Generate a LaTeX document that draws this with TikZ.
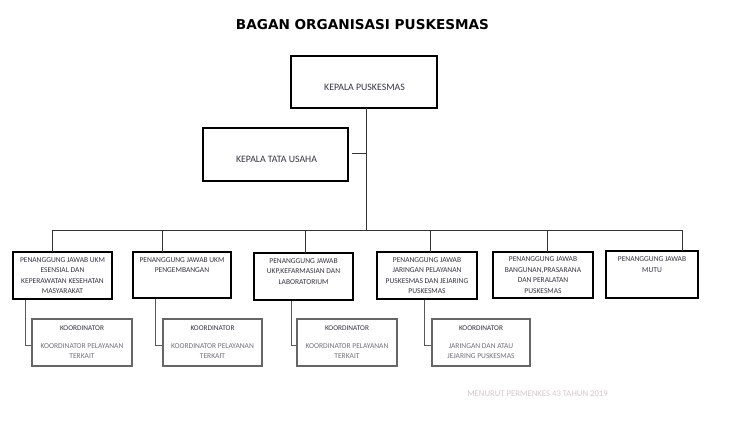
\documentclass[tikz,border=0pt]{standalone}
\usepackage{fontspec}
\setmainfont{Carlito}
\newfontfamily\titlefont{DejaVu Sans}
\definecolor{txt}{HTML}{34343F}
\definecolor{ltxt}{HTML}{707078}
\definecolor{foot}{HTML}{D3C6CD}
\definecolor{cbord}{HTML}{666666}
\begin{document}
\begin{tikzpicture}[x=1pt,y=-1pt,
  mainbox/.style={draw=black,line width=1.6pt,inner sep=0pt},
  coordbox/.style={draw=cbord,line width=1.4pt,inner sep=0pt},
  boxtext/.style={text=txt,font=\fontsize{7.5}{10.5}\selectfont,align=center,inner sep=0pt,anchor=north},
  bigtext/.style={text=txt,font=\fontsize{9.8}{11}\selectfont,inner sep=0pt},
  ctext/.style={text=ltxt,font=\fontsize{7.5}{10}\selectfont,align=center,inner sep=0pt,anchor=north},
  conn/.style={draw=black!80,line width=0.8pt},
  cconn/.style={draw=black!65,line width=0.8pt}]
\useasboundingbox (0,0) rectangle (744,438);

\node[font=\titlefont\bfseries\fontsize{13.6}{15}\selectfont,text=black,inner sep=0pt] (title) at (362.5,25) {BAGAN ORGANISASI PUSKESMAS};

% top boxes
\node[mainbox,minimum width=146pt,minimum height=52pt] (kp) at (364,82) {};
\node[bigtext] (kpt) at (364.5,87) {KEPALA PUSKESMAS};
\node[mainbox,minimum width=145pt,minimum height=53pt] (ktu) at (275.5,154.5) {};
\node[bigtext] (ktut) at (276.5,159) {KEPALA TATA USAHA};

\coordinate (trunktop) at (366,108);
\coordinate (trunkbot) at (366,230);
\coordinate (ktuj) at (366,153);
\draw[conn] (trunktop) -- (trunkbot);
\draw[conn] (ktu.east |- ktuj) ++(3,0) -- (ktuj);

% row 2 boxes
\node[mainbox,minimum width=99pt,minimum height=47pt] (b1) at (62.5,275.5) {};
\node[mainbox,minimum width=98pt,minimum height=46pt] (b2) at (182,275) {};
\node[mainbox,minimum width=99pt,minimum height=47pt] (b3) at (303.5,276.5) {};
\node[mainbox,minimum width=100pt,minimum height=47pt] (b4) at (427,275.5) {};
\node[mainbox,minimum width=100pt,minimum height=46pt] (b5) at (543,275) {};
\node[mainbox,minimum width=92pt,minimum height=47pt] (b6) at (652,274.5) {};

\node[boxtext] (b1t) at (62.5,257.3) {PENANGGUNG JAWAB UKM\\ESENSIAL DAN\\KEPERAWATAN KESEHATAN\\MASYARAKAT};
\node[boxtext] (b2t) at (182,257.3) {PENANGGUNG JAWAB UKM\\PENGEMBANGAN};
\node[boxtext] (b3t) at (303.5,258.3) {PENANGGUNG JAWAB\\UKP,KEFARMASIAN DAN\\LABORATORIUM};
\node[boxtext] (b4t) at (427,257.3) {PENANGGUNG JAWAB\\JARINGAN PELAYANAN\\PUSKESMAS DAN JEJARING\\PUSKESMAS};
\node[boxtext] (b5t) at (543,256.8) {PENANGGUNG JAWAB\\BANGUNAN,PRASARANA\\DAN PERALATAN\\PUSKESMAS};
\node[boxtext] (b6t) at (652,256.8) {PENANGGUNG JAWAB\\MUTU};

% bus
\coordinate (bl) at (52,230);
\coordinate (br) at (682,230);
\draw[conn] (bl) -- (br);
\draw[conn] (52,230) -- (52,252);
\draw[conn] (162,230) -- (162,252);
\draw[conn] (305,230) -- (305,253);
\draw[conn] (430,230) -- (430,252);
\draw[conn] (547,230) -- (547,252);
\draw[conn] (682,230) -- (682,251);

% coordinator boxes
\node[coordbox,minimum width=100pt,minimum height=47pt] (c1) at (82,342.5) {};
\node[coordbox,minimum width=99pt,minimum height=47pt] (c2) at (212.5,342.5) {};
\node[coordbox,minimum width=100pt,minimum height=47pt] (c3) at (347,342.5) {};
\node[coordbox,minimum width=98pt,minimum height=47pt] (c4) at (481,342.5) {};

\foreach \n/\x in {c1/82,c2/212.5,c3/347,c4/481}{
  \node[text=txt,font=\fontsize{7.3}{10}\selectfont,inner sep=0pt] (\n k) at (\x,328.5) {KOORDINATOR};
}
\node[ctext] (c1t) at (82,343.3) {KOORDINATOR PELAYANAN\\TERKAIT};
\node[ctext] (c2t) at (212.5,343.3) {KOORDINATOR PELAYANAN\\TERKAIT};
\node[ctext] (c3t) at (347,343.3) {KOORDINATOR PELAYANAN\\TERKAIT};
\node[ctext] (c4t) at (481,343.3) {JARINGAN DAN ATAU\\JEJARING PUSKESMAS};

\coordinate (j1) at (25,345);
\coordinate (j2) at (155,345);
\coordinate (j3) at (291,345);
\coordinate (j4) at (424,345);
\draw[cconn] (b1.south -| j1) -- (j1) -- (c1.west |- j1);
\draw[cconn] (b2.south -| j2) -- (j2) -- (c2.west |- j2);
\draw[cconn] (b3.south -| j3) -- (j3) -- (c3.west |- j3);
\draw[cconn] (b4.south -| j4) -- (j4) -- (c4.west |- j4);

\node[text=foot,font=\fontsize{8.7}{10}\selectfont,inner sep=0pt] (footer) at (537.5,394) {MENURUT PERMENKES 43 TAHUN 2019};
\end{tikzpicture}
\end{document}
